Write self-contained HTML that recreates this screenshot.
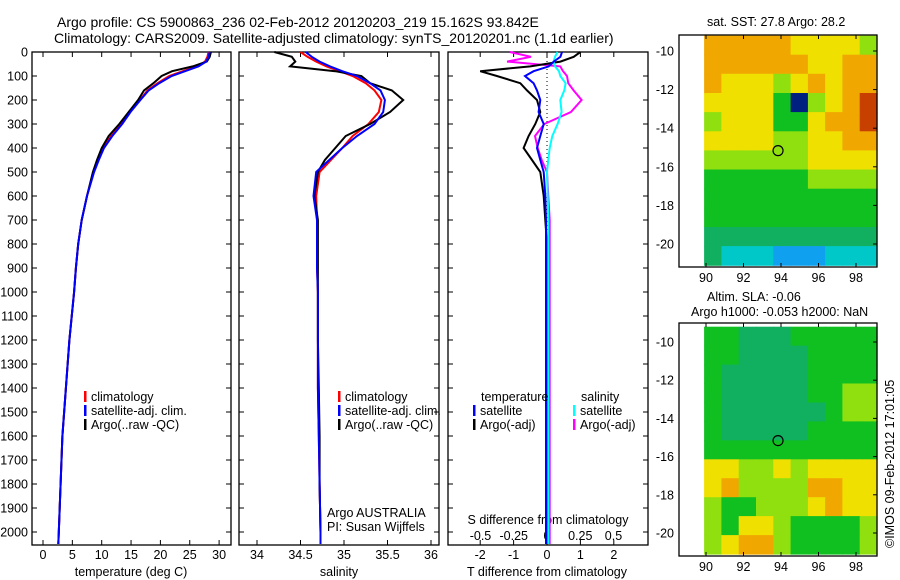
<!DOCTYPE html>
<html><head><meta charset="utf-8"><style>
html,body{margin:0;padding:0;background:#fff;}
svg{display:block;font-family:"Liberation Sans",sans-serif;}
text{font-size:12.5px;fill:#000;}
.big{font-size:14px;}
</style></head><body>
<svg id="fig" width="900" height="580" viewBox="0 0 900 580" xmlns="http://www.w3.org/2000/svg">
<text class="big" x="57" y="27">Argo profile: CS 5900863_236 02-Feb-2012 20120203_219 15.162S 93.842E</text>
<text class="big" x="54" y="43">Climatology: CARS2009. Satellite-adjusted climatology: synTS_20120201.nc (1.1d earlier)</text>
<text x="707" y="26">sat. SST: 27.8 Argo: 28.2</text>
<text x="707" y="301">Altim. SLA: -0.06</text>
<text x="691" y="316">Argo h1000: -0.053 h2000: NaN</text>
<text transform="translate(894,548) rotate(-90)">©IMOS 09-Feb-2012 17:01:05</text>
<g id="plots"></g>
</svg>
<script>
// ---- profile data ----
const depths = [0,20,40,60,80,100,130,160,200,250,300,350,400,450,500,600,700,800,900,1000,1200,1400,1600,1800,2000,2050];
const tempClim = [28.2,28,27.6,26.3,23.8,21.5,19.5,17.8,16.5,14.8,13.4,11.6,10.3,9.4,8.6,7.5,6.6,6,5.6,5.3,4.5,3.9,3.3,3,2.7,2.6];
const tempSat  = [28.4,28.2,27.8,26.5,24.2,21.9,19.8,18,16.6,14.9,13.5,11.8,10.4,9.5,8.7,7.5,6.6,6,5.6,5.3,4.5,3.9,3.3,3,2.7,2.6];
const tempArgo = [28.6,28.4,27.9,25.5,22,20.2,18.8,17.2,16.2,14.6,13.0,11.2,10.0,9.2,8.5,7.5,6.6,6,5.6,5.3,4.5,3.9,3.3,3,2.7,2.6];
const salClim = [34.5,34.58,34.68,34.8,34.95,35.1,35.25,35.35,35.43,35.4,35.28,35.1,34.98,34.85,34.72,34.68,34.69,34.69,34.69,34.7,34.7,34.7,34.71,34.72,34.73,34.73];
const salSat  = [34.56,34.63,34.72,34.84,34.98,35.15,35.3,35.42,35.47,35.45,35.35,35.15,34.98,34.83,34.68,34.65,34.69,34.69,34.69,34.7,34.7,34.7,34.71,34.72,34.73,34.73];
const salArgo = [34.2,34.4,34.44,34.38,34.9,35.2,35.3,35.55,35.68,35.53,35.3,35.02,34.9,34.78,34.7,34.66,34.7,34.7,34.7,34.7,34.7,34.71,34.72,34.72,34.73,34.73];
const dTsat  = [0.45,0.4,0.2,0.05,-0.4,-0.66,-0.4,-0.3,-0.2,-0.25,-0.1,-0.2,-0.3,-0.2,-0.1,-0.05,-0.03,-0.03,-0.03,-0.03,-0.03,-0.03,-0.03,-0.03,-0.03,-0.03];
const dTargo = [1.0,0.8,0.4,-0.5,-2.0,-1.5,-0.8,-0.6,-0.3,-0.2,-0.35,-0.55,-0.7,-0.45,-0.2,-0.1,-0.05,0,0,0,0,0,0,0,0,0];
const dSsat  = [0.08,0.06,0.05,0.06,0.09,0.1,0.14,0.13,0.1,0.11,0.08,0.04,0.02,0.01,0,0.005,0.01,0.01,0.01,0.01,0.01,0.01,0.01,0.01,0.01,0.01];
const dSargo = [-0.28,-0.12,-0.3,0.1,0.12,0.15,0.16,0.2,0.26,0.18,-0.02,-0.09,-0.07,-0.04,0,0.01,0.02,0.02,0.02,0.02,0.02,0.02,0.02,0.02,0.02,0.02];
const depthTicks = [0,100,200,300,400,500,600,700,800,900,1000,1100,1200,1300,1400,1500,1600,1700,1800,1900,2000];
const tempTicks = [0,5,10,15,20,25,30];
const salTicks = [34,34.5,35,35.5,36];
const tdTicks = [-2,-1,0,1,2];
const sdTicks = [-0.5,-0.25,0,0.25,0.5];
// ---- map data (color class per cell; rows north->south, cols 90->99) ----
const sstGrid = [
[6,6,6,6,6,5,5,5,5,4],[6,6,6,6,6,6,5,5,6,6],[6,5,5,5,4,5,6,5,6,6],[5,5,5,5,3,8,4,5,6,7],
[4,5,5,5,3,3,5,6,6,7],[5,5,5,5,4,4,5,5,6,6],[4,4,4,4,4,4,5,5,5,5],[3,3,3,3,3,3,4,4,4,4],
[3,3,3,3,3,3,3,3,3,3],[3,3,3,3,3,3,3,3,3,3],[2,2,2,2,2,2,2,2,2,2],[2,1,1,1,0,0,0,1,1,1]];
const slaGrid = [
[3,3,2,2,2,3,3,3,3,3],[3,3,2,2,2,2,3,3,3,3],[3,2,2,2,2,2,3,3,3,3],[3,2,2,2,2,2,3,3,4,4],
[3,2,2,2,2,2,2,3,4,4],[3,2,2,2,2,2,3,3,3,3],[3,3,3,3,3,3,3,3,3,3],[5,5,4,4,5,4,5,5,5,5],
[5,6,4,4,4,4,6,6,5,5],[4,3,3,4,4,4,5,6,5,5],[4,3,5,5,4,3,3,3,3,4],[4,5,6,6,4,3,3,3,3,4]];
const cmap = ['#10a0f0','#00c8c8','#10b060','#10c020','#90e010','#f0e000','#f0a800','#c84000','#002080'];
const lonTicks=[90,92,94,96,98], latTicks=[-10,-12,-14,-16,-18,-20];
const argoLon=93.842, argoLat=-15.162;

const NS='http://www.w3.org/2000/svg';
const G=document.getElementById('plots');
function mk(t,a,p){const e=document.createElementNS(NS,t);for(const k in a)e.setAttribute(k,a[k]);(p||G).appendChild(e);return e;}
function tx(x,y,s,anchor,p){const e=mk('text',{x:x,y:y,'text-anchor':anchor||'start'},p);e.textContent=s;return e;}
const yD=d=>52+d*0.24;
function box(x0,x1,y0,y1,name){const r=mk('rect',{x:x0,y:y0,width:x1-x0,height:y1-y0,fill:'none',stroke:'#000','stroke-width':1.3});}
function line(vals,xf,color,name,w){const pts=vals.map((v,i)=>xf(v).toFixed(1)+','+yD(depths[i]).toFixed(1)).join(' ');
 const e=mk('polyline',{points:pts,fill:'none',stroke:color,'stroke-width':w||2});}
function leg(x,y,color,label){const e=mk('rect',{x:x,y:y-10,width:2.5,height:11,fill:color});
 const t=tx(x+7,y,label);}
function xticks(x0,x1,xf,ticks,ylab,fmt){ticks.forEach(v=>{const x=xf(v);mk('line',{x1:x,x2:x,y1:545,y2:540,stroke:'#000'});mk('line',{x1:x,x2:x,y1:52,y2:57,stroke:'#000'});
 const t=tx(x,ylab,fmt?fmt(v):String(v),'middle');});}
function yticks(x0,x1,lab){depthTicks.forEach(d=>{const y=yD(d);mk('line',{x1:x0,x2:x0+5,y1:y,y2:y,stroke:'#000'});mk('line',{x1:x1,x2:x1-5,y1:y,y2:y,stroke:'#000'});
 if(lab){const t=tx(28,y+4.5,String(d),'end');}});}

// Panel 1 temperature
const xT=v=>43+v*5.87;
box(32,231,52,545,'temperature-panel');yticks(32,231,true);xticks(32,231,xT,tempTicks,559);
line(tempClim,xT,'#f00','temp-climatology');line(tempArgo,xT,'#000','temp-argo');line(tempSat,xT,'#00f','temp-satellite');
leg(84,401,'#f00','climatology');leg(84,415,'#00f','satellite-adj. clim.');leg(84,429,'#000','Argo(..raw -QC)');
tx(131,576,'temperature (deg C)','middle');
// Panel 2 salinity
const xS=v=>257+(v-34)*87;
box(239,439,52,545,'salinity-panel');yticks(239,439,false);xticks(239,439,xS,salTicks,559);
line(salClim,xS,'#f00','sal-climatology');line(salArgo,xS,'#000','sal-argo');line(salSat,xS,'#00f','sal-satellite');
leg(338,401,'#f00','climatology');leg(338,415,'#00f','satellite-adj. clim.');leg(338,429,'#000','Argo(..raw -QC)');
tx(327,517,'Argo AUSTRALIA');
tx(327,531,'PI: Susan Wijffels');
tx(339,576,'salinity','middle');
// Panel 3 differences
const xdT=v=>547+v*33.4, xdS=v=>547+v*133;
box(448,648,52,545,'difference-panel');yticks(448,648,false);xticks(448,648,xdT,tdTicks,559);
mk('line',{x1:547,x2:547,y1:53,y2:230,stroke:'#000','stroke-dasharray':'1,3'});
sdTicks.forEach(v=>{const t=tx(xdS(v),540,String(v),'middle');});
tx(548,524,'S difference from climatology','middle');
tx(547,576,'T difference from climatology','middle');
line(dSargo,xdS,'#f0f','sal-diff-argo');line(dTargo,xdT,'#000','temp-diff-argo');line(dSsat,xdS,'#0ff','sal-diff-satellite');line(dTsat,xdT,'#00f','temp-diff-satellite');
tx(481,401,'temperature');
tx(581,401,'salinity');
leg(473,415,'#00f','satellite');leg(473,429,'#000','Argo(-adj)');leg(573,415,'#0ff','satellite');leg(573,429,'#f0f','Argo(-adj)');

// Maps
function map(grid,y0,y1,latY,name){
 const lonX=v=>706+(v-90)*18.75;
 const dx0=lonX(89.9),dx1=877,dy0=latY(-9.2),dy1=latY(-21.1);
 const cw=(dx1-dx0)/grid[0].length,ch=(dy1-dy0)/grid.length;
 grid.forEach((row,r)=>row.forEach((c,k)=>{const e=mk('rect',{x:(dx0+k*cw).toFixed(1),y:(dy0+r*ch).toFixed(1),width:(cw+0.6).toFixed(1),height:(ch+0.6).toFixed(1),fill:cmap[c]});
  }));
 box(679,877,y0,y1,name);
 lonTicks.forEach(v=>{const x=lonX(v);mk('line',{x1:x,x2:x,y1:y0,y2:y0+4,stroke:'#000'});mk('line',{x1:x,x2:x,y1:y1,y2:y1-4,stroke:'#000'});
  const t=tx(x,y1+15,String(v),'middle');});
 latTicks.forEach(v=>{const y=latY(v);mk('line',{x1:877,x2:873,y1:y,y2:y,stroke:'#000'});
  const t=tx(674,y+4.5,String(v),'end');});
 const c=mk('circle',{cx:lonX(argoLon),cy:latY(argoLat),r:5,fill:'none',stroke:'#000','stroke-width':1.2});
 
}
map(sstGrid,35,267,v=>51+(-10-v)*19.3,'sst-map');
map(slaGrid,323,556,v=>342+(-10-v)*19.1,'sla-map');
</script>
</body></html>
